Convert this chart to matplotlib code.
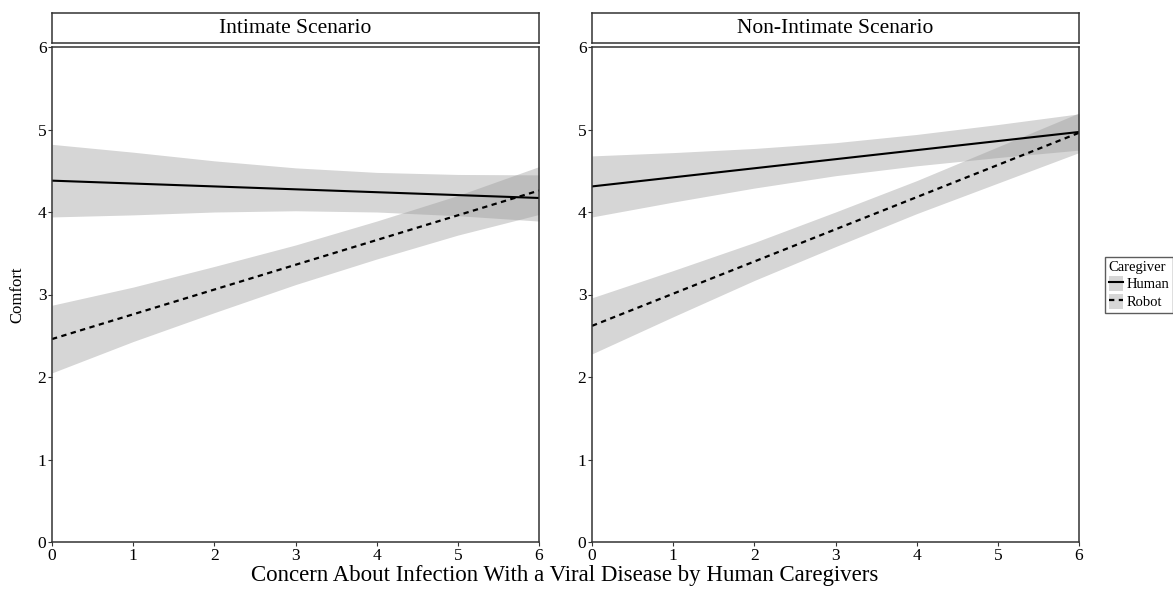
import numpy as np
import matplotlib
matplotlib.use('Agg')
import matplotlib.pyplot as plt
from matplotlib.patches import Patch
from matplotlib.lines import Line2D

plt.rcParams['font.family'] = ['Liberation Serif', 'DejaVu Serif']

# concern level (x) at which the fitted lines / bands are read
concern = [0, 1, 2, 3, 4, 5, 6]

# Intimate scenario
int_human = [4.38, 4.345, 4.31, 4.275, 4.24, 4.205, 4.17]
int_human_lo = [3.94, 3.965, 4.00, 4.015, 4.00, 3.955, 3.89]
int_human_hi = [4.82, 4.725, 4.62, 4.535, 4.48, 4.455, 4.45]
int_robot = [2.46, 2.76, 3.06, 3.36, 3.66, 3.96, 4.26]
int_robot_lo = [2.05, 2.43, 2.78, 3.12, 3.43, 3.72, 3.97]
int_robot_hi = [2.87, 3.09, 3.34, 3.60, 3.89, 4.20, 4.55]

# Non-intimate scenario
non_human = [4.31, 4.42, 4.53, 4.64, 4.75, 4.86, 4.97]
non_human_lo = [3.94, 4.12, 4.29, 4.44, 4.56, 4.66, 4.75]
non_human_hi = [4.68, 4.72, 4.77, 4.84, 4.94, 5.06, 5.19]
non_robot = [2.62, 3.01, 3.40, 3.79, 4.18, 4.57, 4.96]
non_robot_lo = [2.28, 2.73, 3.17, 3.58, 3.98, 4.35, 4.72]
non_robot_hi = [2.96, 3.29, 3.63, 4.00, 4.38, 4.79, 5.20]

panels = [
    ('Intimate Scenario', int_human, int_human_lo, int_human_hi, int_robot, int_robot_lo, int_robot_hi),
    ('Non-Intimate Scenario', non_human, non_human_lo, non_human_hi, non_robot, non_robot_lo, non_robot_hi),
]

W, H = 1173, 592
fig = plt.figure(figsize=(W / 100, H / 100), dpi=100)

band_col = '#999999'
band_alpha = 0.4
lefts = [52, 592]
ax_w = 487
ax_top, ax_bot = 47, 542
strip_top, strip_bot = 13, 43

for (title, hu, hu_lo, hu_hi, ro, ro_lo, ro_hi), lx in zip(panels, lefts):
    ax = fig.add_axes([lx / W, 1 - ax_bot / H, ax_w / W, (ax_bot - ax_top) / H])
    ax.fill_between(concern, hu_lo, hu_hi, color=band_col, alpha=band_alpha, lw=0)
    ax.fill_between(concern, ro_lo, ro_hi, color=band_col, alpha=band_alpha, lw=0)
    ax.plot(concern, hu, color='black', lw=1.5, solid_capstyle='butt')
    ax.plot(concern, ro, color='black', lw=1.6, ls=(0, (2.4, 2.0)))
    ax.set_xlim(0, 6)
    ax.set_ylim(0, 6)
    ax.set_xticks(range(7))
    ax.set_yticks(range(7))
    ax.tick_params(labelsize=12.5, length=3, width=0.8, pad=1, colors='#333333', labelcolor='black')
    for s in ax.spines.values():
        s.set_linewidth(1.1)
        s.set_color('#333333')

    sax = fig.add_axes([lx / W, 1 - strip_bot / H, ax_w / W, (strip_bot - strip_top) / H])
    sax.set_xticks([])
    sax.set_yticks([])
    for s in sax.spines.values():
        s.set_linewidth(1.1)
        s.set_color('#333333')
    sax.text(0.5, 0.48, title, ha='center', va='center', fontsize=15.5, transform=sax.transAxes)

fig.text(565 / W, 1 - 576 / H, 'Concern About Infection With a Viral Disease by Human Caregivers',
         ha='center', va='center', fontsize=16.5)
fig.text(17 / W, 1 - 295 / H, 'Comfort', ha='center', va='center', rotation=90, fontsize=12)

key_fill = Patch(facecolor=band_col, alpha=band_alpha, edgecolor='none')
handles = [(key_fill, Line2D([], [], color='black', lw=1.5)),
           (key_fill, Line2D([], [], color='black', lw=1.6, ls=(0, (2.4, 2.0))))]
leg = fig.legend(handles, ['Human', 'Robot'], title='Caregiver', loc='upper left',
                 bbox_to_anchor=(1105 / W, 1 - 257 / H), borderaxespad=0,
                 fontsize=10.5, title_fontsize=10.5,
                 frameon=True, fancybox=False, handlelength=1.0, handleheight=1.25,
                 handletextpad=0.25, borderpad=0.25, labelspacing=0.15, alignment='left')
leg.get_frame().set_edgecolor('#333333')
leg.get_frame().set_linewidth(1.0)

fig.savefig('out.png', dpi=100)
